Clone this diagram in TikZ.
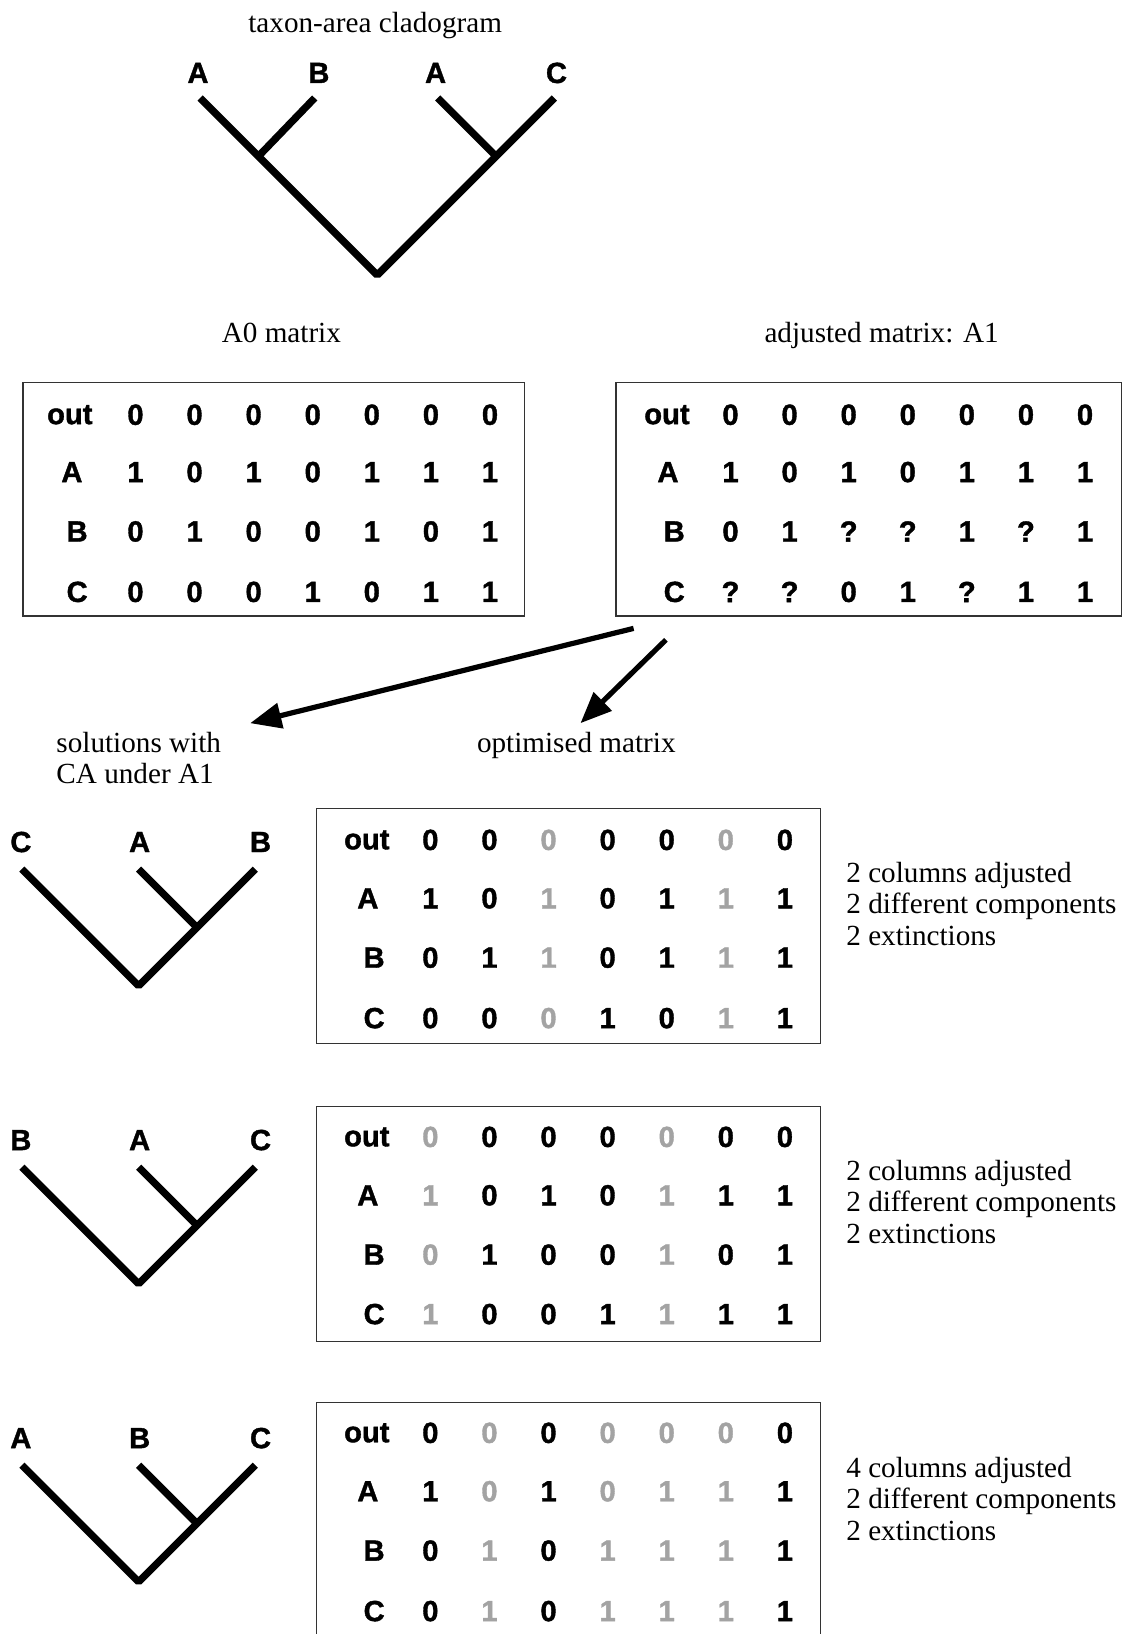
\documentclass[tikz,border=0pt]{standalone}
\usepackage{fontspec}
\setmainfont{Liberation Serif}
\newfontfamily\hsans{Liberation Sans Bold}[FakeBold=1.3]
\usetikzlibrary{arrows.meta}
\definecolor{lightgr}{gray}{0.64}
\definecolor{boxline}{gray}{0.2}
\newcommand\mrow[6]{%
  \node[lab] (#1) at (#2,#3) {#4};
  \foreach \v/\cl [count=\i] in {#6} {
    \node[lab, text=\cl] (#1-\i) at ({#5+(\i-1)*56.7},#3) {\v};
  }%
}
\newcommand\smalltree[5]{% prefix, leaf y, labels
  \coordinate (#1-l1) at (21,#2);
  \coordinate (#1-l2) at (133,#2);
  \coordinate (#1-l3) at (245,#2);
  \coordinate (#1-j) at (189,#2+56);
  \coordinate (#1-r) at (133,#2+112);
  \draw[branch] (#1-l1) -- (#1-r) -- (#1-l3);
  \draw[branch] (#1-l2) -- (#1-j);
  \node[lab] (#1-t1) at (20,#2-26) {#3};
  \node[lab] (#1-t2) at (134,#2-26) {#4};
  \node[lab] (#1-t3) at (250,#2-26) {#5};
}
\begin{document}
\begin{tikzpicture}[x=1pt,y=-1pt,
  ser/.style={font=\fontsize{28}{30}\selectfont, inner sep=0pt},
  lab/.style={font=\hsans\fontsize{28}{30}\selectfont, inner sep=0pt},
  branch/.style={line width=7pt, line join=bevel},
  mbox/.style={draw=boxline, line width=1.2pt},
  bigarrow/.style={line width=5pt, -{Triangle[length=30pt,width=24pt]}}
]
\useasboundingbox (0,0) rectangle (1080,1568);

% ---- top cladogram
\node[ser, anchor=base] (title) at (360,31) {taxon-area cladogram};
\coordinate (tA1) at (192,94);
\coordinate (tB) at (302,94);
\coordinate (tA2) at (420,94);
\coordinate (tC) at (532,94);
\coordinate (tjAB) at (248,150);
\coordinate (tjAC) at (476,150);
\coordinate (troot) at (362,264);
\draw[branch] (tA1) -- (troot) -- (tC);
\draw[branch] (tB) -- (tjAB);
\draw[branch] (tA2) -- (tjAC);
\node[lab] (ltA1) at (190,70) {A};
\node[lab] (ltB) at (306,70) {B};
\node[lab] (ltA2) at (418,70) {A};
\node[lab] (ltC) at (534,70) {C};

% ---- A0 matrix
\node[ser, anchor=base] (a0title) at (270,329) {A0 matrix};
\draw[mbox] (22,367) rectangle (503,591);
\mrow{m0o}{67}{398}{out}{130}{0/black,0/black,0/black,0/black,0/black,0/black,0/black}
\mrow{m0a}{69}{453}{A}{130}{1/black,0/black,1/black,0/black,1/black,1/black,1/black}
\mrow{m0b}{74}{510}{B}{130}{0/black,1/black,0/black,0/black,1/black,0/black,1/black}
\mrow{m0c}{74}{568}{C}{130}{0/black,0/black,0/black,1/black,0/black,1/black,1/black}

% ---- A1 matrix
\node[ser, anchor=base] (a1title) at (846,329) {adjusted matrix: A1};
\draw[mbox] (591,367) rectangle (1076,591);
\mrow{m1o}{640}{398}{out}{701}{0/black,0/black,0/black,0/black,0/black,0/black,0/black}
\mrow{m1a}{641}{453}{A}{701}{1/black,0/black,1/black,0/black,1/black,1/black,1/black}
\mrow{m1b}{647}{510}{B}{701}{0/black,1/black,?/black,?/black,1/black,?/black,1/black}
\mrow{m1c}{647}{568}{C}{701}{?/black,?/black,0/black,1/black,?/black,1/black,1/black}

% ---- arrows
\coordinate (ar1s) at (608,603);
\coordinate (ar1e) at (240,694);
\coordinate (ar2s) at (639,614);
\coordinate (ar2e) at (557,694);
\draw[bigarrow] (ar1s) -- (ar1e);
\draw[bigarrow] (ar2s) -- (ar2e);
\node[ser, anchor=base west] (sol1) at (54,722) {solutions with};
\node[ser, anchor=base west] (sol2) at (54,752) {CA under A1};
\node[ser, anchor=base] (optm) at (553,722) {optimised matrix};

% ---- solution 1
\smalltree{s1}{834}{C}{A}{B}
\draw[mbox] (304,776) rectangle (787,1001);
\mrow{s1o}{352}{806}{out}{413}{0/black,0/black,0/lightgr,0/black,0/black,0/lightgr,0/black}
\mrow{s1a}{353}{862}{A}{413}{1/black,0/black,1/lightgr,0/black,1/black,1/lightgr,1/black}
\mrow{s1b}{359}{919}{B}{413}{0/black,1/black,1/lightgr,0/black,1/black,1/lightgr,1/black}
\mrow{s1c}{359}{977}{C}{413}{0/black,0/black,0/lightgr,1/black,0/black,1/lightgr,1/black}
\node[ser, anchor=base west] (s1t1) at (812,847) {2 columns adjusted};
\node[ser, anchor=base west] (s1t2) at (812,877) {2 different components};
\node[ser, anchor=base west] (s1t3) at (812,907) {2 extinctions};

% ---- solution 2
\smalltree{s2}{1120}{B}{A}{C}
\draw[mbox] (304,1062) rectangle (787,1287);
\mrow{s2o}{352}{1091}{out}{413}{0/lightgr,0/black,0/black,0/black,0/lightgr,0/black,0/black}
\mrow{s2a}{353}{1147}{A}{413}{1/lightgr,0/black,1/black,0/black,1/lightgr,1/black,1/black}
\mrow{s2b}{359}{1204}{B}{413}{0/lightgr,1/black,0/black,0/black,1/lightgr,0/black,1/black}
\mrow{s2c}{359}{1261}{C}{413}{1/lightgr,0/black,0/black,1/black,1/lightgr,1/black,1/black}
\node[ser, anchor=base west] (s2t1) at (812,1133) {2 columns adjusted};
\node[ser, anchor=base west] (s2t2) at (812,1163) {2 different components};
\node[ser, anchor=base west] (s2t3) at (812,1193) {2 extinctions};

% ---- solution 3
\smalltree{s3}{1406}{A}{B}{C}
\draw[mbox] (304,1346) rectangle (787,1580);
\mrow{s3o}{352}{1375}{out}{413}{0/black,0/lightgr,0/black,0/lightgr,0/lightgr,0/lightgr,0/black}
\mrow{s3a}{353}{1431}{A}{413}{1/black,0/lightgr,1/black,0/lightgr,1/lightgr,1/lightgr,1/black}
\mrow{s3b}{359}{1488}{B}{413}{0/black,1/lightgr,0/black,1/lightgr,1/lightgr,1/lightgr,1/black}
\mrow{s3c}{359}{1546}{C}{413}{0/black,1/lightgr,0/black,1/lightgr,1/lightgr,1/lightgr,1/black}
\node[ser, anchor=base west] (s3t1) at (812,1418) {4 columns adjusted};
\node[ser, anchor=base west] (s3t2) at (812,1448) {2 different components};
\node[ser, anchor=base west] (s3t3) at (812,1478) {2 extinctions};
\end{tikzpicture}
\end{document}
